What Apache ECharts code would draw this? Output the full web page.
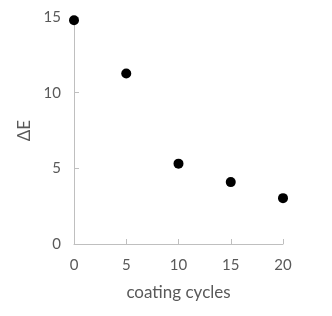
<!DOCTYPE html>
<html><head><meta charset="utf-8">
<script src="https://cdn.jsdelivr.net/npm/echarts@6/dist/echarts.min.js"></script>
<style>html,body{margin:0;padding:0;background:#fff}#c{width:332px;height:316px}</style>
</head><body><div id="c"></div>
<script>
const cycles = [0, 5, 10, 15, 20];
const deltaE = [14.78, 11.27, 5.31, 4.09, 3.03];
const xTitle = 'coating cycles';
const yTitle = 'ΔE';
const chart = echarts.init(document.getElementById('c'), null, {renderer: 'canvas'});
const axisCommon = {
  axisLine: {show: true, lineStyle: {color: '#bfbfbf', width: 1}},
  axisTick: {show: true, inside: true, length: 5, lineStyle: {color: '#bfbfbf'}},
  splitLine: {show: false},
  axisLabel: {color: '#595959', fontFamily: 'Lato', fontSize: 15},
  nameTextStyle: {color: '#595959', fontFamily: 'Lato', fontSize: 17},
  nameLocation: 'middle'
};
chart.setOption({
  animation: false,
  grid: {left: 74, right: 49, top: 17, bottom: 72},
  xAxis: Object.assign({}, axisCommon, {type: 'value', min: 0, max: 20, interval: 5, name: xTitle, nameGap: 40,
    axisLabel: Object.assign({}, axisCommon.axisLabel, {margin: 14})}),
  yAxis: Object.assign({}, axisCommon, {type: 'value', min: 0, max: 15, interval: 5, name: yTitle, nameGap: 38,
    axisLabel: Object.assign({}, axisCommon.axisLabel, {margin: 13})}),
  series: [{type: 'scatter', data: cycles.map((c, i) => [c, deltaE[i]]), symbolSize: 10, itemStyle: {color: '#000', opacity: 1}}]
});
</script></body></html>
